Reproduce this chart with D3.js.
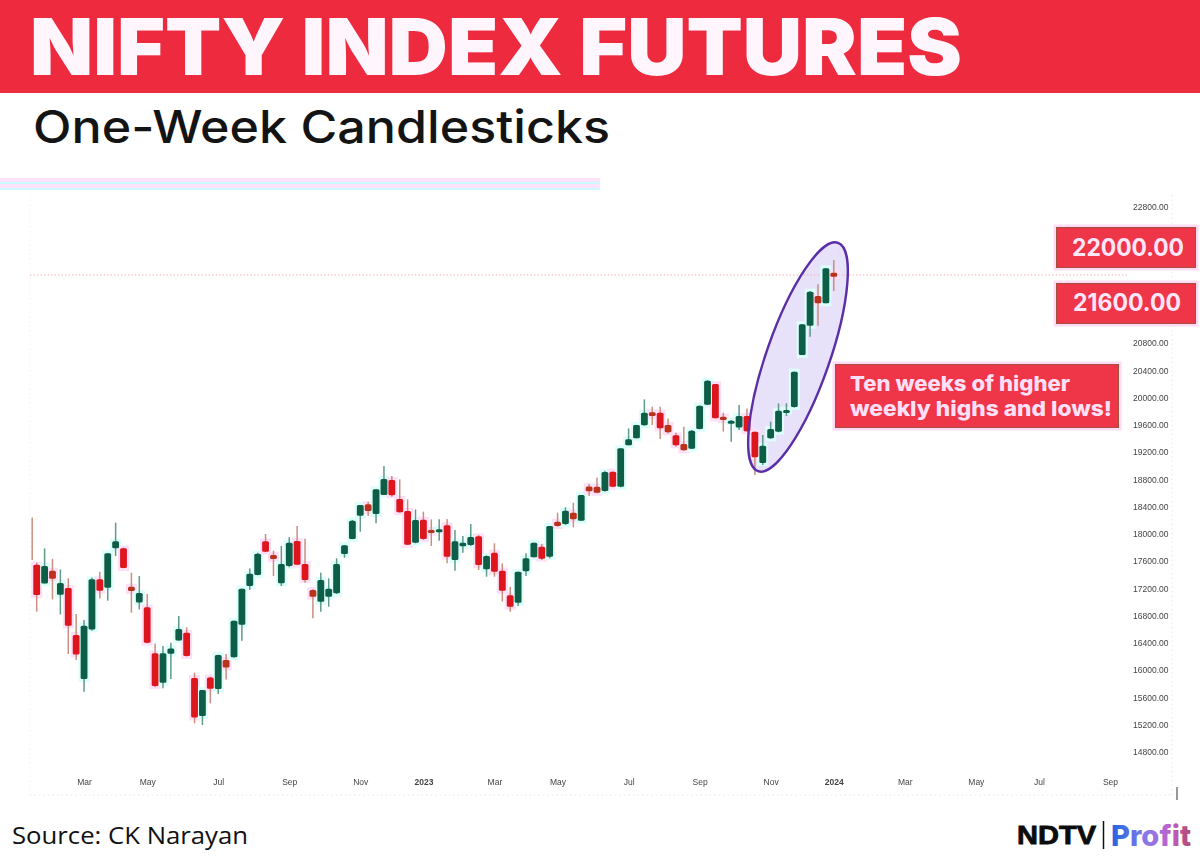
<!DOCTYPE html>
<html><head><meta charset="utf-8">
<script src="https://cdnjs.cloudflare.com/ajax/libs/d3/7.8.5/d3.min.js"></script>
<style>html,body{margin:0;padding:0;background:#fff;overflow:hidden}svg{display:block}</style>
</head><body><svg id="c" width="1200" height="867"></svg>
<script>
const firstBarDate="2022-01-20", secondBarDate="2022-01-24";
const opens=[17630,17549,17275,17461,17109,17207,16517,15871,16600,17334,17212,17789,17789,17226,16996,16923,16248,15817,16243,16438,16551,15886,15328,15895,15724,16150,16189,16668,17236,17397,17892,17691,
17276,17530,17897,17560,17178,17007,17080,17129,17706,17927,18269,18435,18294,18572,18793,18514,18338,17873,18210,18059,18049,18127,17618,17819,17839,17966,17481,17726,17462,17100,16992,17452,17657,17814,17667,
18181,18146,18313,18195,18699,18694,18631,18915,18694,19301,19404,19595,19786,19781,19600,19448,19321,19252,19541,19898,20201,19722,19644,19565,19732,19502,19042,19404,19502,19796,19864,20628,21058,21494,21386,21836];
const highs=[18244,17579,17789,17637,17481,17349,16825,16737,17363,17446,17716,18166,17799,17432,17383,17119,16394,16355,16404,16796,16629,15964,15709,15905,16228,16238,16727,17197,17495,17725,18000,17755,
17824,17951,18117,17931,17188,17432,17349,17643,17838,18206,18426,18475,18656,18998,18851,18802,18509,18362,18328,18215,18215,18220,18059,17971,18147,17985,17687,17863,17569,17227,17447,17716,17873,17853,18117,
18313,18391,18460,18572,18734,18831,18929,18915,19257,19551,19600,19976,19869,19869,19697,19487,19575,19526,19883,20260,20201,19781,19673,19893,19844,19502,19453,19649,19918,19918,20383,21078,21567,21665,21900,22022];
const lows=[17618,16859,17275,17040,16820,16238,16150,15685,16580,17055,17021,17676,17495,16845,16893,16394,15749,15734,15871,16434,16199,15220,15196,15514,15651,15866,16184,16434,17177,17393,17735,17383,
17237,17511,17545,17286,16762,16860,16933,17119,17653,17922,18034,18264,18157,18572,18548,18313,17838,17863,17912,17824,17902,17569,17462,17726,17824,17472,17374,17374,17007,16860,16943,17383,17657,17618,17643,
18107,18132,18097,18195,18557,18597,18621,18685,18685,19301,19404,19590,19600,19394,19477,19282,19223,19247,19536,19893,19698,19502,19355,19526,19502,18866,19013,19394,19492,19732,19854,20628,20897,21058,21386,21567];
const closes=[17620,17104,17530,17344,17280,16654,16233,16654,17334,17168,17716,17892,17500,17163,17133,16404,15768,16248,16321,16605,16209,15308,15709,15729,16223,16042,16727,17197,17417,17711,17740,17632,
17560,17873,17550,17325,17080,17325,17198,17560,17834,18196,18426,18338,18656,18807,18568,18318,17843,18205,17927,18020,18068,17667,17892,17873,17956,17545,17677,17447,17168,16933,17447,17643,17873,17638,18117,
18117,18342,18215,18572,18626,18606,18910,18694,19257,19389,19600,19781,19732,19551,19492,19301,19228,19516,19883,20250,19698,19673,19663,19732,19507,19125,19297,19541,19810,19820,20383,21078,21557,21386,21900,21777];
const yTickValues=[22800,20800,20400,20000,19600,19200,18800,18400,18000,17600,17200,16800,16400,16000,15600,15200,14800];
const xTickDates=["2022-03-07","2022-05-02","2022-07-04","2022-09-05","2022-11-07","2023-01-02","2023-03-06","2023-05-01","2023-07-03","2023-09-04","2023-11-06","2024-01-01","2024-03-04","2024-05-06","2024-07-01","2024-09-02"];
const xTickLabels=["Mar","May","Jul","Sep","Nov","2023","Mar","May","Jul","Sep","Nov","2024","Mar","May","Jul","Sep"];
const refLevel=21802;
const titleText="NIFTY INDEX FUTURES", subtitleText="One-Week Candlesticks", sourceText="Source: CK Narayan";
const levelLabels=["22000.00","21600.00"];
const noteLines=["Ten weeks of higher","weekly highs and lows!"];

const RED="#dc131e", REDSMALL="#b9301c", GREEN="#0b5d46", BANNER="#ee2a3f", BOXFILL="#ef3548";
const svg=d3.select("#c");
const parse=d3.utcParse("%Y-%m-%d");
const dates=opens.map((_,i)=> i===0?parse(firstBarDate):d3.utcDay.offset(parse(secondBarDate),(i-1)*7));
const x=d3.scaleUtc().domain([parse(secondBarDate),parse("2024-09-02")]).range([36.7,1110]);
const y=d3.scaleLinear().domain([14800,22800]).range([752,207]);

const defs=svg.append("defs");
const grad=defs.append("linearGradient").attr("id","pg");
[["0%","#1f66e0"],["45%","#8a7ae8"],["75%","#c060c8"],["100%","#b0486e"]].forEach(s=>grad.append("stop").attr("offset",s[0]).attr("stop-color",s[1]));
function mkBlur(id,s){const f=defs.append("filter").attr("id",id).attr("x","-20%").attr("y","-20%").attr("width","140%").attr("height","140%");
 f.append("feGaussianBlur").attr("stdDeviation",s);}
mkBlur("sb",0.4); 
const cb=defs.append("filter").attr("id","cb").attr("filterUnits","userSpaceOnUse").attr("x",0).attr("y",190).attr("width",1200).attr("height",620);
cb.append("feGaussianBlur").attr("stdDeviation",0.45);

// header
svg.append("rect").attr("x",0).attr("y",0).attr("width",1200).attr("height",93).attr("fill",BANNER);
svg.append("text").attr("x",30).attr("y",74.5).attr("font-family","Inter").attr("font-weight",900).attr("font-size",78)
 .attr("fill","#fff5fd").attr("textLength",932).attr("lengthAdjust","spacingAndGlyphs").text(titleText);
svg.append("text").attr("x",33).attr("y",142.5).attr("font-family","Inter").attr("font-weight",500).attr("font-size",45)
 .attr("fill","#141414").attr("textLength",577).attr("lengthAdjust","spacingAndGlyphs").text(subtitleText);
svg.append("rect").attr("x",0).attr("y",178).attr("width",600).attr("height",12).attr("fill","#ffe3fa");
svg.append("rect").attr("x",0).attr("y",182).attr("width",600).attr("height",2).attr("fill","#ccfbff");
svg.append("rect").attr("x",0).attr("y",188).attr("width",600).attr("height",2).attr("fill","#ccfbff");

// frame: dotted bottom and right edges
const frame=svg.append("g").attr("stroke","#e6e6e6").attr("stroke-dasharray","1.5 3").attr("stroke-width",1);
frame.append("line").attr("x1",30).attr("x2",1172).attr("y1",795).attr("y2",795);
frame.append("line").attr("x1",1172).attr("x2",1172).attr("y1",195).attr("y2",795);
frame.append("line").attr("x1",30).attr("x2",30).attr("y1",195).attr("y2",795).attr("stroke","#f2f2f2");
svg.append("line").attr("x1",1177).attr("x2",1177).attr("y1",787).attr("y2",800).attr("stroke","#333").attr("stroke-width",1);

// axes
const yAxis=d3.axisRight(y).tickValues(yTickValues).tickFormat(d3.format(".2f")).tickSize(0).tickPadding(0);
const gy=svg.append("g").attr("transform","translate(1133,0)").call(yAxis);
gy.select(".domain").remove();
gy.selectAll("text").attr("font-family","Liberation Sans").attr("font-size",8.5).attr("fill","#444").attr("filter","url(#sb)");
const xAxis=d3.axisBottom(x).tickValues(xTickDates.map(parse)).tickFormat((d,i)=>xTickLabels[i]).tickSize(0).tickPadding(0);
const gx=svg.append("g").attr("transform","translate(0,779)").call(xAxis);
gx.select(".domain").remove();
gx.selectAll("text").attr("font-family","Liberation Sans").attr("font-size",8.5).attr("fill","#444").attr("filter","url(#sb)")
 .attr("font-weight",(d,i)=>/^\d/.test(xTickLabels[i])?700:400);

// ellipse underlay
const ell=svg.append("g").attr("transform","translate(798,357) rotate(19.3)");
ell.append("ellipse").attr("rx",31.5).attr("ry",121).attr("fill","#e8e1fa").attr("stroke","none");

// reference level
svg.append("line").attr("x1",30).attr("x2",1128).attr("y1",y(refLevel)).attr("y2",y(refLevel))
 .attr("stroke","#f0b4b4").attr("stroke-width",1).attr("stroke-dasharray","1.5 2");

// candles
const bars=opens.map((o,i)=>({date:dates[i],o,h:highs[i],l:lows[i],c:closes[i]}));
const up=d=>d.c>=d.o;
const small=d=>Math.abs(y(d.o)-y(d.c))<8;
const halo=bars.slice(1);
svg.append("g").selectAll("rect.halo").data(halo).join("rect").attr("class","halo")
 .attr("x",d=>x(d.date)-5.5).attr("width",11)
 .attr("y",d=>y(Math.max(d.o,d.c))-3).attr("height",d=>Math.abs(y(d.o)-y(d.c))+6)
 .attr("fill",d=>up(d)?"#dcfffb":"#ffdff7");
const g=svg.append("g").attr("filter","url(#cb)");
g.selectAll("line.wick").data(bars).join("line").attr("class","wick")
 .attr("x1",d=>x(d.date)).attr("x2",d=>x(d.date)).attr("y1",d=>y(d.h)).attr("y2",d=>y(d.l))
 .attr("stroke",d=>up(d)?"#5f9a8a":"#c98f80").attr("stroke-width",1.5);
g.selectAll("rect.body").data(bars.slice(1)).join("rect").attr("class","body")
 .attr("x",d=>x(d.date)-3.4).attr("width",6.8)
 .attr("y",d=>y(Math.max(d.o,d.c))).attr("height",d=>Math.max(3,Math.abs(y(d.o)-y(d.c))))
 .attr("rx",1.5).attr("fill",d=>up(d)?GREEN:(small(d)?REDSMALL:RED));

// ellipse outline on top
const ell2=svg.append("g").attr("transform","translate(798,357) rotate(19.3)");
ell2.append("ellipse").attr("rx",31.5).attr("ry",121).attr("fill","none").attr("stroke","#5a2ea6").attr("stroke-width",2.4);

// level boxes
function box(bx,by,w,h){
 svg.append("rect").attr("x",bx-3).attr("y",by-3).attr("width",w+6).attr("height",h+6).attr("fill","#ffdcf6");
 svg.append("rect").attr("x",bx).attr("y",by).attr("width",w).attr("height",h).attr("fill",BOXFILL).attr("stroke","#a5503f").attr("stroke-width",1);
}
box(1056.5,227.5,139,40);
box(1056.5,283.5,139,40);
const lvl=[[1072,256],[1073,311]];
levelLabels.forEach((t,i)=>svg.append("text").attr("x",lvl[i][0]).attr("y",lvl[i][1]).attr("font-family","Inter").attr("font-weight",700)
 .attr("font-size",24).attr("fill","#ffe6fb").attr("textLength",i?108:112).attr("lengthAdjust","spacingAndGlyphs").text(t));
box(835.5,364.5,283,63);
const notePos=[[850,391],[850,416]], noteLen=[220,262];
noteLines.forEach((t,i)=>svg.append("text").attr("x",notePos[i][0]).attr("y",notePos[i][1]).attr("font-family","Inter").attr("font-weight",800)
 .attr("font-size",20.5).attr("fill","#ffe0f8").attr("textLength",noteLen[i]).attr("lengthAdjust","spacingAndGlyphs").text(t));

// footer
svg.append("text").attr("x",12).attr("y",844).attr("font-family","Open Sans").attr("font-weight",400).attr("font-size",23)
 .attr("fill","#111").attr("textLength",236).attr("lengthAdjust","spacingAndGlyphs").text(sourceText);
svg.append("text").attr("x",1017).attr("y",844).attr("font-family","Liberation Sans").attr("font-weight",700).attr("font-size",25)
 .attr("fill","#0c0c0c").attr("stroke","#0c0c0c").attr("stroke-width",0.8).attr("textLength",79).attr("lengthAdjust","spacingAndGlyphs").text("NDTV");
svg.append("line").attr("x1",1103.5).attr("x2",1103.5).attr("y1",821).attr("y2",849).attr("stroke","#111").attr("stroke-width",1.5);
svg.append("text").attr("x",1111).attr("y",846).attr("font-family","Inter").attr("font-weight",800).attr("font-size",29)
 .attr("fill","url(#pg)").attr("textLength",80).attr("lengthAdjust","spacingAndGlyphs").text("Profit");
</script></body></html>
